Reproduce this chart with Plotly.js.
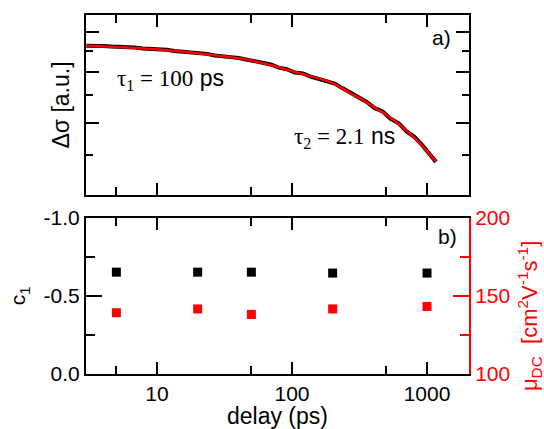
<!DOCTYPE html>
<html>
<head>
<meta charset="utf-8">
<script src="https://cdn.plot.ly/plotly-3.0.1.min.js"></script>
<style>html,body{margin:0;padding:0;background:#fff;}#chart{width:544px;height:429px;}</style>
</head>
<body>
<div id="chart"></div>
<script>
// ---- Panel a) transient conductivity (measured) ----
const dataDelay = [3.0, 3.5, 4.0, 4.6, 5.2, 6.0, 6.8, 7.8, 9.0, 10.3, 11.8, 13.5, 15.5, 17.8, 20.4, 23.4, 26.8, 30.7, 35.2, 40.3, 46.2, 53.0, 60.7, 69.6, 79.8, 91.4, 104.8, 120.1, 137.6, 157.7, 180.8, 207.2, 237.4, 272.1, 311.8, 357.4, 409.5, 469.4, 537.9, 616.5, 706.5, 809.7, 928.0, 1063.5, 1166];
const dataSignal = [0.926, 0.927, 0.924, 0.921, 0.921, 0.916, 0.917, 0.911, 0.910, 0.906, 0.905, 0.899, 0.896, 0.893, 0.887, 0.884, 0.876, 0.874, 0.868, 0.864, 0.855, 0.849, 0.840, 0.833, 0.818, 0.811, 0.796, 0.792, 0.778, 0.769, 0.757, 0.748, 0.728, 0.708, 0.693, 0.674, 0.651, 0.639, 0.613, 0.598, 0.571, 0.553, 0.527, 0.500, 0.481];
// ---- Panel a) bi-exponential fit ----
const fitDelay = [3.0, 6.0, 9.0, 15.9, 25.6, 41.2, 57.9, 77.4, 101.7, 135.9, 181.6, 219.1, 268.9, 330.0, 398.1, 488.6, 599.5, 711.0, 843.1, 1000, 1166];
const fitSignal = [0.926, 0.917, 0.909, 0.895, 0.878, 0.862, 0.842, 0.822, 0.800, 0.780, 0.759, 0.738, 0.709, 0.684, 0.657, 0.630, 0.600, 0.572, 0.543, 0.511, 0.482];
// ---- Panel b) ----
const pointDelay = [5, 20, 50, 200, 1000];
const c1Values = [-0.653, -0.653, -0.653, -0.647, -0.647];
const muDC = [139.3, 141.7, 138.2, 141.7, 143.3];
// ---- tick labels ----
const xTickVals = [10, 100, 1000];
const xTickText = ['10', '100', '1000'];
const c1TickVals = [-1, -0.5, 0];
const c1TickText = ['-1.0', '-0.5', '0.0'];
const muTickVals = [100, 150, 200];
const muTickText = ['100', '150', '200'];

const FONT = 'Liberation Sans, Arial, sans-serif';
const SERIF = 'Liberation Serif, Times New Roman, serif';
const xRange = [0.474, 3.311];

function xAxisCommon(extra) {
  return Object.assign({
    type: 'log', range: xRange,
    tickmode: 'array', tickvals: xTickVals, ticktext: xTickText,
    ticks: 'inside', ticklen: 12, tickwidth: 2, tickcolor: '#000',
    minor: {tickmode: 'array', tickvals: [5, 50, 500], ticks: 'inside', ticklen: 8, tickwidth: 2, tickcolor: '#000', showgrid: false},
    showline: true, linewidth: 2, linecolor: '#000', mirror: 'ticks',
    showgrid: false, zeroline: false,
    tickfont: {family: FONT, size: 21, color: '#000'}
  }, extra);
}

const traces = [
  {x: dataDelay, y: dataSignal, xaxis: 'x2', yaxis: 'y2', mode: 'lines',
   line: {color: '#000', width: 4}, hoverinfo: 'skip'},
  {x: fitDelay, y: fitSignal, xaxis: 'x2', yaxis: 'y2', mode: 'lines',
   line: {color: '#ff0000', width: 2.5, shape: 'spline'}},
  {x: pointDelay, y: c1Values, xaxis: 'x', yaxis: 'y', mode: 'markers',
   marker: {symbol: 'square', size: 9, color: '#000'}},
  {x: pointDelay, y: muDC, xaxis: 'x', yaxis: 'y3', mode: 'markers',
   marker: {symbol: 'square', size: 9, color: '#ff0000'}}
];

const layout = {
  width: 544, height: 429,
  margin: {l: 86, r: 75, t: 15, b: 55},
  paper_bgcolor: '#fff', plot_bgcolor: '#fff',
  showlegend: false,
  font: {family: FONT, color: '#000'},
  xaxis: xAxisCommon({domain: [0, 1], anchor: 'y',
    title: {text: 'delay (ps)', font: {family: FONT, size: 23, color: '#000'}, standoff: 4}}),
  xaxis2: xAxisCommon({domain: [0, 1], anchor: 'y2', showticklabels: false}),
  yaxis: {
    domain: [0, 0.4345], anchor: 'x', range: [0, -1],
    tickmode: 'array', tickvals: c1TickVals, ticktext: c1TickText,
    ticks: 'inside', ticklen: 16, tickwidth: 2, tickcolor: '#000',
    minor: {tickmode: 'array', tickvals: [-0.75, -0.25], ticks: 'inside', ticklen: 9, tickwidth: 2, tickcolor: '#000', showgrid: false},
    showline: true, linewidth: 2, linecolor: '#000',
    showgrid: false, zeroline: false,
    tickfont: {family: FONT, size: 21, color: '#000'},
    title: {text: 'c<sub>1</sub>', font: {family: FONT, size: 21, color: '#000'}, standoff: 12}
  },
  yaxis3: {
    overlaying: 'y', side: 'right', anchor: 'x', range: [100, 200],
    tickmode: 'array', tickvals: muTickVals, ticktext: muTickText,
    ticks: 'inside', ticklen: 16, tickwidth: 2, tickcolor: '#ff0000',
    minor: {tickmode: 'array', tickvals: [125, 175], ticks: 'inside', ticklen: 9, tickwidth: 2, tickcolor: '#ff0000', showgrid: false},
    showline: true, linewidth: 2, linecolor: '#ff0000',
    showgrid: false, zeroline: false,
    tickfont: {family: FONT, size: 21, color: '#ff0000'}
  },
  yaxis2: {
    domain: [0.4986, 1], anchor: 'x2', type: 'log', range: [-0.3989, 0.0416],
    tickmode: 'array', tickvals: [1.0, 0.8, 0.6],
    ticks: 'inside', ticklen: 13, tickwidth: 2, tickcolor: '#000',
    minor: {tickmode: 'array', tickvals: [0.9, 0.7, 0.5], ticks: 'inside', ticklen: 7, tickwidth: 2, tickcolor: '#000', showgrid: false},
    showticklabels: false,
    showline: true, linewidth: 2, linecolor: '#000', mirror: 'ticks',
    showgrid: false, zeroline: false,
    title: {text: 'Δσ [a.u.]', font: {family: FONT, size: 23, color: '#000'}, standoff: 8}
  },
  annotations: [
    {text: 'a)', xref: 'paper', yref: 'paper', x: 0.9295, y: 0.936, xanchor: 'center', yanchor: 'middle',
     showarrow: false, font: {family: FONT, size: 21, color: '#000'}},
    {text: 'b)', xref: 'paper', yref: 'paper', x: 0.945, y: 0.382, xanchor: 'center', yanchor: 'middle',
     showarrow: false, font: {family: FONT, size: 21, color: '#000'}},
    {text: '<span style="font-family:' + SERIF + '">τ<sub>1</sub> = 100</span> ps', xref: 'paper', yref: 'paper',
     x: 0.0757, y: 0.819, xanchor: 'left', yanchor: 'middle',
     showarrow: false, font: {family: FONT, size: 23, color: '#000'}},
    {text: '<span style="font-family:' + SERIF + '">τ<sub>2</sub> = 2.1</span> ns', xref: 'paper', yref: 'paper',
     x: 0.538, y: 0.660, xanchor: 'left', yanchor: 'middle',
     showarrow: false, font: {family: FONT, size: 23, color: '#000'}},
    {text: 'μ<sub>DC</sub>  [cm<sup>2</sup>V<sup>-1</sup>s<sup>-1</sup>]', xref: 'paper', yref: 'paper',
     x: 1.158, y: 0.16, xanchor: 'center', yanchor: 'middle', textangle: -90,
     showarrow: false, font: {family: FONT, size: 22, color: '#ff0000'}}
  ]
};

Plotly.newPlot('chart', traces, layout, {displayModeBar: false, staticPlot: true});
</script>
</body>
</html>
